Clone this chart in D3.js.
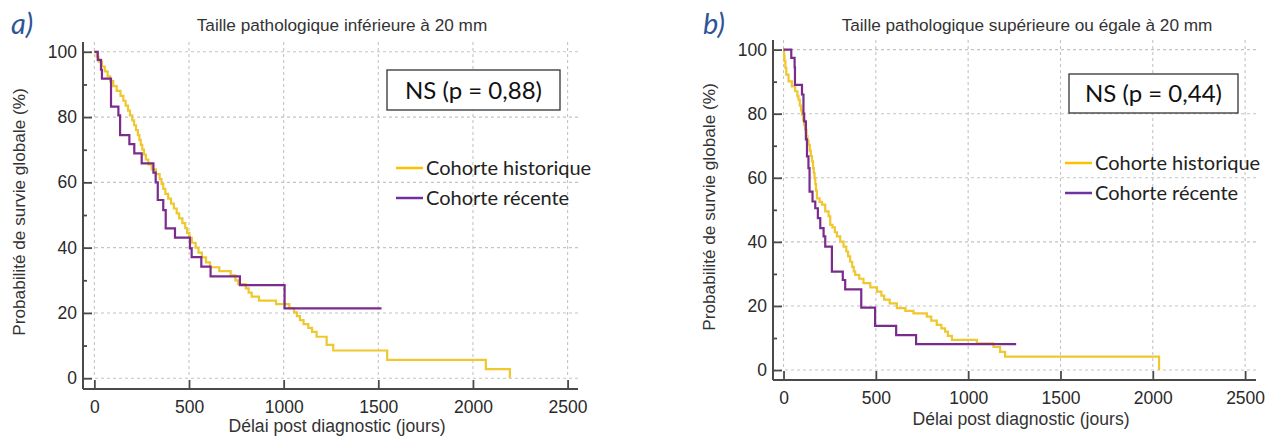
<!DOCTYPE html>
<html><head><meta charset="utf-8">
<script src="https://cdn.jsdelivr.net/npm/d3@7"></script>
<style>body{margin:0;background:#fff}svg{display:block}</style>
</head><body><svg id="c" width="1265" height="439"></svg>
<script>
// ---------- DATA ----------
const tickX = [0, 500, 1000, 1500, 2000, 2500];
const tickY = [0, 20, 40, 60, 80, 100];
const minorY = [10, 30, 50, 70, 90];
const seriesNames = ["Cohorte historique", "Cohorte récente"];
const panelTitles = ["Taille pathologique inférieure à 20 mm", "Taille pathologique supérieure ou égale à 20 mm"];
const panelLetters = ["a)", "b)"];
const pValues = ["NS (p = 0,88)", "NS (p = 0,44)"];
const xTitle = "Délai post diagnostic (jours)";
const yTitle = "Probabilité de survie globale (%)";

const histA_days = [0,12,22,40,55,70,83,100,118,138,153,165,178,188,200,210,220,230,238,245,253,262,272,285,303,325,345,355,364,375,390,405,420,435,448,465,480,490,502,515,535,550,568,590,611,660,720,745,760,800,815,831,870,960,1030,1055,1070,1086,1105,1130,1150,1174,1227,1262,1547,2068,2195];
const histA_surv = [100,98.5,97,95.5,94,92.5,91,89.5,88,86.5,85,83.5,82,80.5,79,77.5,76,74.5,73,71.5,70,68.5,67,65.5,64,62.5,61,59.5,58,56.5,55,53.5,52,50.5,49,47.5,46,44.5,43,41.5,40,38.5,37,35.5,34,32.8,31.5,30,28.8,27.5,26.2,25,23.8,22.7,21.5,20.2,19,17.8,16.6,15.4,14.2,12.7,10.2,8.5,5.6,2.8,0];
const recA_days = [0,18,35,40,88,127,136,185,211,250,312,324,335,364,377,426,505,514,565,614,769,1005,1517];
const recA_surv = [100,97.5,94.5,91.8,83.2,80.5,74.5,71.7,68.9,65.8,63,60,54.6,51.5,45.9,43.1,39.8,37.1,34.2,31.2,28.5,21.4,21.4];

const histB_days = [0,3,5,10,15,27,45,63,75,81,88,95,100,106,112,117,125,130,135,142,148,154,160,164,168,172,176,181,195,208,226,244,253,265,278,289,307,325,340,350,361,372,380,388,410,433,470,506,530,545,575,614,660,704,776,800,830,855,875,890,912,1047,1137,1173,1200,2034];
const histB_surv = [100,98,96.4,94.3,92.2,90.1,88.5,87,85.5,84.4,82.5,81,79.7,78,76.5,75,73,71.5,70.3,68.5,66.8,65.1,63,61.5,59.9,58,56,53.6,52.5,51.6,49.5,48,45.3,44.5,43,41.7,40.1,38.5,37,35.5,33.8,32.2,30.8,29.7,28.5,27.1,25.8,24.5,23.2,22,20.8,19.3,18.5,17.7,16.7,15.4,14.1,13,12,10.7,9.4,8.3,7.2,5.7,4.2,0];
const recB_days = [0,42,60,62,100,108,112,121,127,135,141,157,172,186,199,217,226,262,321,334,421,496,610,718,1260];
const recB_surv = [100,97.4,94.5,89,86,80,77.6,72,66.7,63,55.7,52.6,50.5,47.4,44.3,41.7,38.5,30.7,28.1,25.2,19.5,13.8,10.9,8.1,8.1];

// ---------- LAYOUT ----------
const colors = { hist: "#EFC72E", rec: "#7A2B8C", legHist: "#FFC000", legRec: "#7030A0", letter: "#2F5597" };
const layouts = [
  { left: 83, right: 578, top: 42, bottom: 389, xd: [-60, 2555], yd: [-3.3, 103],
    titleX: 342, letterX: 11, yTitleX: 25, yTitleY: 212, xTitleX: 337, xTitleY: 432,
    box: [387, 70, 173, 40], legX: 396, legY: [168, 198] },
  { left: 773, right: 1256, top: 40, bottom: 380, xd: [-57, 2559], yd: [-3.1, 103],
    titleX: 1027, letterX: 703, yTitleX: 715, yTitleY: 207, xTitleX: 1021, xTitleY: 425,
    box: [1069, 74, 169, 39], legX: 1065, legY: [163, 193] }
];
const data = [
  { hd: histA_days, hs: histA_surv, rd: recA_days, rs: recA_surv },
  { hd: histB_days, hs: histB_surv, rd: recB_days, rs: recB_surv }
];

const svg = d3.select("#c");
const sans = "'Liberation Sans', Arial, sans-serif";
const cal = "Lato, 'Open Sans', sans-serif";

layouts.forEach((L, i) => {
  const g = svg.append("g");
  const x = d3.scaleLinear().domain(L.xd).range([L.left, L.right]);
  const y = d3.scaleLinear().domain(L.yd).range([L.bottom, L.top]);

  // grid
  g.selectAll(".gv").data(tickX).join("line")
    .attr("x1", d => x(d)).attr("x2", d => x(d)).attr("y1", L.top).attr("y2", y(0))
    .attr("stroke", "#c4c4c4").attr("stroke-dasharray", "3,3").attr("stroke-width", 1.1);
  g.selectAll(".gh").data(tickY).join("line")
    .attr("x1", L.left).attr("x2", L.right).attr("y1", d => y(d)).attr("y2", d => y(d))
    .attr("stroke", "#c4c4c4").attr("stroke-dasharray", "3,3").attr("stroke-width", 1.1);

  // axes
  const ax = g.append("g").attr("transform", `translate(0,${L.bottom})`)
    .call(d3.axisBottom(x).tickValues(tickX).tickSize(-9).tickPadding(12).tickFormat(d3.format("d")));
  const ay = g.append("g").attr("transform", `translate(${L.left},0)`)
    .call(d3.axisLeft(y).tickValues(tickY).tickSize(-9).tickPadding(6).tickFormat(d3.format("d")));
  g.append("g").attr("transform", `translate(${L.left},0)`)
    .call(d3.axisLeft(y).tickValues(minorY).tickSize(-4).tickFormat(""))
    .call(s => s.select(".domain").remove());
  [ax, ay].forEach(a => {
    a.select(".domain").attr("stroke", "#4a4a4a").attr("stroke-width", 2);
    a.selectAll("text").attr("font-family", sans).attr("font-size", 17.5).attr("fill", "#2a2a2a");
  });
  g.selectAll(".tick line").attr("stroke", "#4a4a4a").attr("stroke-width", 1.8);
  ax.select(".domain").attr("d", `M${L.left},0H${L.right}`);
  ay.select(".domain").attr("d", `M0,${L.top}V${L.bottom}`);
  ax.selectAll("text").attr("dy", "0.71em");

  // curves
  const line = d3.line().curve(d3.curveStepAfter).x(d => x(d[0])).y(d => y(d[1]));
  const D = data[i];
  const hist = D.hd.map((t, k) => [t, D.hs[k]]);
  const rec = D.rd.map((t, k) => [t, D.rs[k]]);
  g.append("path").datum(hist).attr("d", line).attr("fill", "none")
    .attr("stroke", colors.hist).attr("stroke-width", 2.2);
  g.append("path").datum(rec).attr("d", line).attr("fill", "none")
    .attr("stroke", colors.rec).attr("stroke-width", 2.2);

  // titles
  g.append("text").attr("x", L.titleX).attr("y", 30.5).attr("text-anchor", "middle")
    .attr("font-family", sans).attr("font-size", 17.2).attr("fill", "#333").text(panelTitles[i]);
  g.append("text").attr("x", L.letterX).attr("y", 34).attr("font-family", cal).attr("font-style", "italic")
    .attr("font-size", 29).attr("fill", colors.letter).text(panelLetters[i]);
  g.append("text").attr("transform", `translate(${L.yTitleX},${L.yTitleY}) rotate(-90)`)
    .attr("text-anchor", "middle").attr("font-family", sans).attr("font-size", 17.2).attr("fill", "#333").text(yTitle);
  g.append("text").attr("x", L.xTitleX).attr("y", L.xTitleY).attr("text-anchor", "middle")
    .attr("font-family", sans).attr("font-size", 17.6).attr("fill", "#333").text(xTitle);

  // p-value box
  g.append("rect").attr("x", L.box[0]).attr("y", L.box[1]).attr("width", L.box[2]).attr("height", L.box[3])
    .attr("fill", "#fff").attr("stroke", "#333").attr("stroke-width", 1.3);
  g.append("text").attr("x", L.box[0] + L.box[2] / 2).attr("y", L.box[1] + L.box[3] / 2 + 8.5)
    .attr("text-anchor", "middle").attr("font-family", cal).attr("font-size", 24).attr("fill", "#111").text(pValues[i]);

  // legend
  const lc = [colors.legHist, colors.legRec];
  seriesNames.forEach((n, k) => {
    g.append("line").attr("x1", L.legX).attr("x2", L.legX + 27).attr("y1", L.legY[k]).attr("y2", L.legY[k])
      .attr("stroke", lc[k]).attr("stroke-width", 2.5);
    g.append("text").attr("x", L.legX + 30).attr("y", L.legY[k] + 7).attr("font-family", cal)
      .attr("font-size", 20).attr("fill", "#222").text(n);
  });
});
</script></body></html>
